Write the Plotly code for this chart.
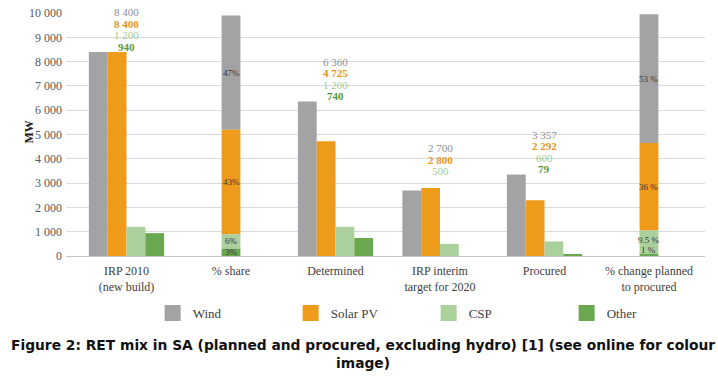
import numpy as np
import plotly.graph_objects as go

# ---------------- data ----------------
categories = ["IRP 2010<br>(new build)", "% share", "Determined",
              "IRP interim<br>target for 2020", "Procured",
              "% change planned<br>to procured"]
series = ["Wind", "Solar PV", "CSP", "Other"]

# MW categories (grouped bars)
mw_categories = ["IRP 2010<br>(new build)", "Determined",
                 "IRP interim<br>target for 2020", "Procured"]
wind_mw = [8400, 6360, 2700, 3357]
solar_mw = [8400, 4725, 2800, 2292]
csp_mw = [1200, 1200, 500, 600]
other_mw = [940, 740, None, 79]

# percentage categories (stacked bars)
pct_categories = ["% share", "% change planned<br>to procured"]
wind_pct = [47, 53]
solar_pct = [43, 36]
csp_pct = [6, 9.5]
other_pct = [3, 1]
pct_label_formats = ["{}%", "{} %"]

y_tick_vals = [0, 1000, 2000, 3000, 4000, 5000, 6000, 7000, 8000, 9000, 10000]
y_tick_text = ["0", "1 000", "2 000", "3 000", "4 000", "5 000", "6 000",
               "7 000", "8 000", "9 000", "10 000"]

caption = ("Figure 2: RET mix in SA (planned and procured, excluding hydro) [1] "
           "(see online for colour<br>image)")

# ---------------- style ----------------
SERIF = "Liberation Serif"
bar_colors = ["#a3a3a5", "#ee9b1b", "#acd09c", "#6aa84f"]
label_colors = ["#8e8e8e", "#e8951a", "#a2cb90", "#5b9a40"]
label_bold = [False, True, False, True]
BW = 0.18
group_offsets = [-2 * BW, -BW, 0.0, BW]
PCT_SCALE = 100  # 1 % drawn as 100 units on the MW axis

xpos = {c: i for i, c in enumerate(categories)}
mw = [wind_mw, solar_mw, csp_mw, other_mw]
pct = np.array([wind_pct, solar_pct, csp_pct, other_pct], dtype=float)

heights = pct * PCT_SCALE
bases = np.zeros_like(heights)
running = np.zeros(heights.shape[1])
for s in [3, 2, 1, 0]:  # stack from bottom: Other, CSP, Solar PV, Wind
    bases[s] = running
    running = running + heights[s]

fig = go.Figure()
for s, name in enumerate(series):
    x = [xpos[c] for c in mw_categories] + [xpos[c] for c in pct_categories]
    y = list(mw[s]) + list(heights[s])
    base = [0] * len(mw_categories) + list(bases[s])
    offset = [group_offsets[s]] * len(mw_categories) + [-BW / 2] * len(pct_categories)
    fig.add_trace(go.Bar(x=x, y=y, base=base, offset=offset, width=BW,
                         marker=dict(color=bar_colors[s], line=dict(width=0)),
                         name=name, showlegend=False, hoverinfo="skip"))
    # legend-only entry with a slightly bigger swatch
    fig.add_trace(go.Bar(x=[None], y=[None], name=name, showlegend=True,
                         marker=dict(color=bar_colors[s],
                                     line=dict(color=bar_colors[s], width=4))))

annotations = []
# value labels above grouped bars
GAP, STEP = 5, 11.5
for j, c in enumerate(mw_categories):
    vals = [mw[s][j] for s in range(4)]
    top = max(v for v in vals if v is not None)
    for s in range(4):
        v = vals[s]
        if v is None:
            continue
        txt = f"{v:,}".replace(",", " ")
        if label_bold[s]:
            txt = f"<b>{txt}</b>"
        annotations.append(dict(x=xpos[c], y=top, xref="x", yref="y", text=txt,
                                showarrow=False, yanchor="middle",
                                yshift=GAP + (3 - s) * STEP,
                                font=dict(family=SERIF, size=11, color=label_colors[s])))

# percent labels inside stacked bars
small_shift = {(1, 3): 5, (1, 2): 2}
for j, c in enumerate(pct_categories):
    for s in range(4):
        mid = bases[s][j] + heights[s][j] / 2
        v = pct[s][j]
        vt = int(v) if float(v).is_integer() else v
        annotations.append(dict(x=xpos[c], y=mid, xref="x", yref="y",
                                text=pct_label_formats[j].format(vt), showarrow=False,
                                yanchor="middle", yshift=small_shift.get((j, s), 0),
                                font=dict(family=SERIF, size=9, color="#333333")))

# y-axis title
annotations.append(dict(x=-0.0571, y=0.51, xref="paper", yref="paper", text="<b>MW</b>",
                        textangle=-90, showarrow=False, xanchor="center", yanchor="middle",
                        font=dict(family=SERIF, size=12, color="#1a1a1a")))
# caption
annotations.append(dict(x=0.4648, y=-0.405, xref="paper", yref="paper",
                        text=f"<b>{caption}</b>", showarrow=False,
                        xanchor="center", yanchor="middle",
                        font=dict(family="DejaVu Sans", size=13.8, color="#111111")))

fig.update_layout(
    width=718, height=377,
    margin=dict(l=66, r=13, t=13, b=121, autoexpand=False),
    paper_bgcolor="white", plot_bgcolor="white",
    barmode="overlay",
    showlegend=True,
    legend=dict(orientation="h", xref="container", yref="container",
                x=0.597, y=0.1698, xanchor="center", yanchor="middle",
                font=dict(family=SERIF, size=13, color="#404040"),
                entrywidth=93, traceorder="normal", bgcolor="rgba(0,0,0,0)"),
    xaxis=dict(range=[-0.579, 5.536], tickmode="array", automargin=False,
               tickvals=list(range(len(categories))), ticktext=categories,
               showgrid=False, zeroline=False, showline=False, ticks="",
               ticklabelstandoff=6,
               tickfont=dict(family=SERIF, size=12, color="#404040")),
    yaxis=dict(range=[0, 10000], tickmode="array", tickvals=y_tick_vals,
               ticktext=y_tick_text, showgrid=True, gridcolor="#d9d9d9", gridwidth=1,
               zeroline=True, zerolinecolor="#c4c4c4", zerolinewidth=1,
               showline=False, ticks="", automargin=False, ticklabelstandoff=3,
               tickfont=dict(family=SERIF, size=12, color="#595959")),
    annotations=annotations,
)

fig.write_html("out.html", config={"displayModeBar": False},
               post_script="document.body.style.margin='0';")
